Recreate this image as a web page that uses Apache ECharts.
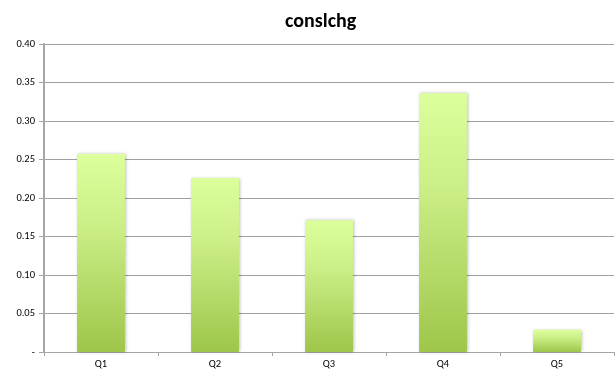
<!DOCTYPE html>
<html>
<head>
<meta charset="utf-8">
<script src="https://cdn.jsdelivr.net/npm/echarts@6/dist/echarts.min.js"></script>
<style>
  html, body { margin: 0; padding: 0; background: #ffffff; }
  #chart { width: 616px; height: 377px; }
</style>
</head>
<body>
<div id="chart"></div>
<script>
// Quintile categories and their consumption-change values
const categories = ['Q1', 'Q2', 'Q3', 'Q4', 'Q5'];
const values = [0.257, 0.226, 0.171, 0.336, 0.029];
const yTicks = [0, 0.05, 0.10, 0.15, 0.20, 0.25, 0.30, 0.35, 0.40];

const chart = echarts.init(document.getElementById('chart'));
const labelFont = 'Carlito, "Open Sans", "Liberation Sans", sans-serif';

chart.setOption({
  animation: false,
  title: {
    text: 'conslchg',
    left: 280,
    top: 7,
    textStyle: { fontFamily: labelFont, fontSize: 20, fontWeight: 'bold', color: '#000' }
  },
  grid: { left: 44, right: 2, top: 44, bottom: 25 },
  xAxis: {
    type: 'category',
    data: categories,
    axisLine: { lineStyle: { color: '#a6a6a6', width: 1 } },
    axisTick: { show: true, length: 4, lineStyle: { color: '#a6a6a6' } },
    axisLabel: { fontFamily: labelFont, fontSize: 10.5, color: '#000', margin: 7 }
  },
  yAxis: {
    type: 'value',
    min: yTicks[0],
    max: yTicks[yTicks.length - 1],
    interval: 0.05,
    axisLine: { show: true, lineStyle: { color: '#a6a6a6', width: 2 } },
    axisTick: { show: true, length: 5, inside: false, lineStyle: { color: '#a6a6a6' } },
    splitLine: { lineStyle: { color: '#a0a0a0', width: 1 } },
    axisLabel: {
      fontFamily: labelFont, fontSize: 10.5, color: '#000', margin: 9,
      formatter: v => (Math.abs(v) < 1e-9 ? '-' : v.toFixed(2))
    }
  },
  series: [{
    type: 'bar',
    data: values,
    barWidth: '42%',
    itemStyle: {
      color: new echarts.graphic.LinearGradient(0, 0, 0, 1, [
        { offset: 0, color: '#dcff9c' },
        { offset: 0.35, color: '#cdef88' },
        { offset: 1, color: '#9dc64a' }
      ]),
      shadowColor: 'rgba(0,0,0,0.25)',
      shadowBlur: 3,
      shadowOffsetX: 1,
      shadowOffsetY: 0
    }
  }]
});
</script>
</body>
</html>
